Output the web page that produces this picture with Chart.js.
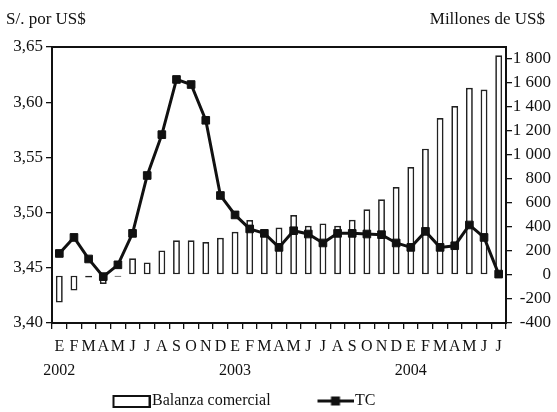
<!DOCTYPE html>
<html><head><meta charset="utf-8">
<script src="https://cdn.jsdelivr.net/npm/chart.js@4"></script>
<style>html,body{margin:0;padding:0;background:#fff}#wrap{width:557px;height:412px;position:relative}canvas{display:block}</style>
</head><body><div id="wrap"><canvas id="c" width="557" height="412" style="width:557px;height:412px"></canvas></div>
<script>
// ---- data ----
const months = ['E','F','M','A','M','J','J','A','S','O','N','D','E','F','M','A','M','J','J','A','S','O','N','D','E','F','M','A','M','J','J'];
const years = ['2002','','','','','','','','','','','','2003','','','','','','','','','','','','2004','','','','','',''];
const balanzaComercial = [-230,-130,-20,-75,-15,140,105,205,290,290,275,310,360,458,375,395,500,410,430,410,460,547,631,733,900,1053,1308,1408,1560,1545,1831];
const tipoCambio = [3.463,3.4775,3.458,3.442,3.4527,3.4812,3.5336,3.5706,3.6206,3.616,3.5836,3.5155,3.4979,3.4852,3.4812,3.4685,3.4836,3.4806,3.4725,3.4812,3.4812,3.4806,3.480,3.4725,3.4685,3.483,3.4685,3.470,3.4888,3.4775,3.4443];
const leftTicks = [3.40,3.45,3.50,3.55,3.60,3.65];
const rightTicks = [-400,-200,0,200,400,600,800,1000,1200,1400,1600,1800];
const titleLeft = 'S/. por US$';
const titleRight = 'Millones de US$';
const seriesNames = ['Balanza comercial','TC'];

// ---- styling / layout ----
const INK = '#111111';
const FONT = '"Liberation Serif", "Times New Roman", serif';
Chart.defaults.font.family = FONT;
Chart.defaults.color = INK;

const AREA = {left:52, right:506, top:47, bottom:323};
const LEG_FONT = 16;
const mctx = document.createElement('canvas').getContext('2d');
mctx.font = LEG_FONT + 'px ' + FONT;
const T1 = mctx.measureText(seriesNames[0]).width;
const BOXW = 38, HALF = LEG_FONT/2;
const LEG_TEXT1_X = 152, LEG_TEXT2_X = 355, LEG_MID_Y = 401;
let LEG_PAD = (LEG_TEXT2_X - LEG_TEXT1_X) - T1 - BOXW - HALF;
if (LEG_PAD < 2) LEG_PAD = 2;
const LEG_H = LEG_FONT + LEG_PAD + 10;

function makeBarIcon(){
  const c = document.createElement('canvas'); c.width = 51; c.height = 14;
  const g = c.getContext('2d');
  g.fillStyle = '#fff'; g.strokeStyle = INK; g.lineWidth = 2;
  g.fillRect(14, 2, 36, 11); g.strokeRect(14, 2, 36, 11);
  return c;
}
function makeLineIcon(){
  const c = document.createElement('canvas'); c.width = 51; c.height = 14;
  const g = c.getContext('2d');
  g.strokeStyle = INK; g.lineWidth = 3;
  g.beginPath(); g.moveTo(15, 7); g.lineTo(51, 7); g.stroke();
  g.fillStyle = INK; g.fillRect(28.5, 2.5, 9, 9);
  return c;
}
const barIcon = makeBarIcon(), lineIcon = makeLineIcon();

const labels = months.map((m, i) => years[i] ? [m, years[i]] : m);

const framePlugin = {
  id: 'frame',
  afterLayout(chart){
    const sx = chart.scales.x;
    if (sx) { sx.bottom = 412; sx.height = sx.bottom - sx.top; }
    const lg = chart.legend;
    if (!lg || !lg.lineWidths) return;
    const P = LEG_PAD;
    const cur = (lg.left + P + lg.right - lg.lineWidths[0]) / 2;
    const want = LEG_TEXT1_X - BOXW - HALF;
    const dx = want - cur;
    lg.left += dx; lg.right += dx;
    const top = LEG_MID_Y - HALF - P;
    const h = lg.height;
    lg.top = top; lg.bottom = top + h;
  },
  afterDatasetsDraw(chart){
    const {ctx, chartArea:a} = chart;
    ctx.save();
    ctx.strokeStyle = INK; ctx.lineWidth = 2;
    ctx.strokeRect(a.left, a.top, a.right - a.left, a.bottom - a.top);
    ctx.restore();
  },
  afterDraw(chart){
    const ctx = chart.ctx;
    ctx.save();
    ctx.fillStyle = INK;
    ctx.font = '17px ' + FONT;
    ctx.textBaseline = 'alphabetic';
    ctx.textAlign = 'left';
    ctx.fillText(titleLeft, 6, 24);
    ctx.textAlign = 'right';
    ctx.fillText(titleRight, 545, 24);
    ctx.restore();
  }
};

const fmtLeft = v => Number(v).toFixed(2).replace('.', ',');
const fmtRight = v => String(v).replace(/\B(?=(\d{3})+(?!\d))/g, ' ');

new Chart(document.getElementById('c'), {
  data: {
    labels,
    datasets: [
      {
        type: 'bar', label: seriesNames[0], data: balanzaComercial, yAxisID: 'yR', order: 2,
        backgroundColor: '#ffffff', borderColor: '#222222', borderWidth: 1.7, borderSkipped: false,
        barPercentage: 0.47, categoryPercentage: 1.0
      },
      {
        type: 'line', label: seriesNames[1], data: tipoCambio, yAxisID: 'yL', order: 1,
        borderColor: INK, backgroundColor: INK, borderWidth: 3, tension: 0,
        pointStyle: 'rect', pointRadius: 5.4, pointBorderWidth: 1, pointBackgroundColor: INK, pointBorderColor: INK
      }
    ]
  },
  options: {
    responsive: false, maintainAspectRatio: false, animation: false, devicePixelRatio: 1,
    layout: { padding: { top: AREA.top, left: 0, right: 6, bottom: 0 } },
    plugins: {
      tooltip: { enabled: false },
      legend: {
        position: 'bottom',
        labels: {
          usePointStyle: true, pointStyleWidth: BOXW, padding: LEG_PAD,
          font: { size: LEG_FONT }, color: INK,
          generateLabels(chart){
            const items = Chart.defaults.plugins.legend.labels.generateLabels(chart);
            items.sort((a, b) => a.datasetIndex - b.datasetIndex);
            items.forEach(it => { it.pointStyle = it.datasetIndex === 0 ? barIcon : lineIcon; });
            return items;
          }
        }
      }
    },
    scales: {
      x: {
        type: 'category', offset: true,
        grid: { offset: true, drawOnChartArea: false, drawTicks: true, tickLength: 6, color: INK, lineWidth: 1.3 },
        border: { display: false },
        ticks: { autoSkip: false, maxRotation: 0, minRotation: 0, padding: 6, font: { size: 16, lineHeight: 1.5 }, color: INK },
        afterFit(s){ s.height = 412 - AREA.bottom - LEG_H; }
      },
      yL: {
        type: 'linear', position: 'left', min: leftTicks[0], max: leftTicks[leftTicks.length-1],
        grid: { drawOnChartArea: false, drawTicks: true, tickLength: 6, color: INK, lineWidth: 1.3 },
        border: { display: false },
        ticks: { padding: 3, font: { size: 17 }, color: INK, callback: v => fmtLeft(v) },
        afterBuildTicks(s){ s.ticks = leftTicks.map(v => ({ value: v })); },
        afterFit(s){ s.width = AREA.left; }
      },
      yR: {
        type: 'linear', position: 'right', min: rightTicks[0], max: 1900,
        grid: { drawOnChartArea: false, drawTicks: true, tickLength: 6, color: INK, lineWidth: 1.3 },
        border: { display: false },
        ticks: { padding: 3, crossAlign: 'far', font: { size: 17 }, color: INK, callback: v => fmtRight(v) },
        afterBuildTicks(s){ s.ticks = rightTicks.map(v => ({ value: v })); },
        afterFit(s){ s.width = 557 - 6 - AREA.right; }
      }
    }
  },
  plugins: [framePlugin]
});
</script>
</body></html>
